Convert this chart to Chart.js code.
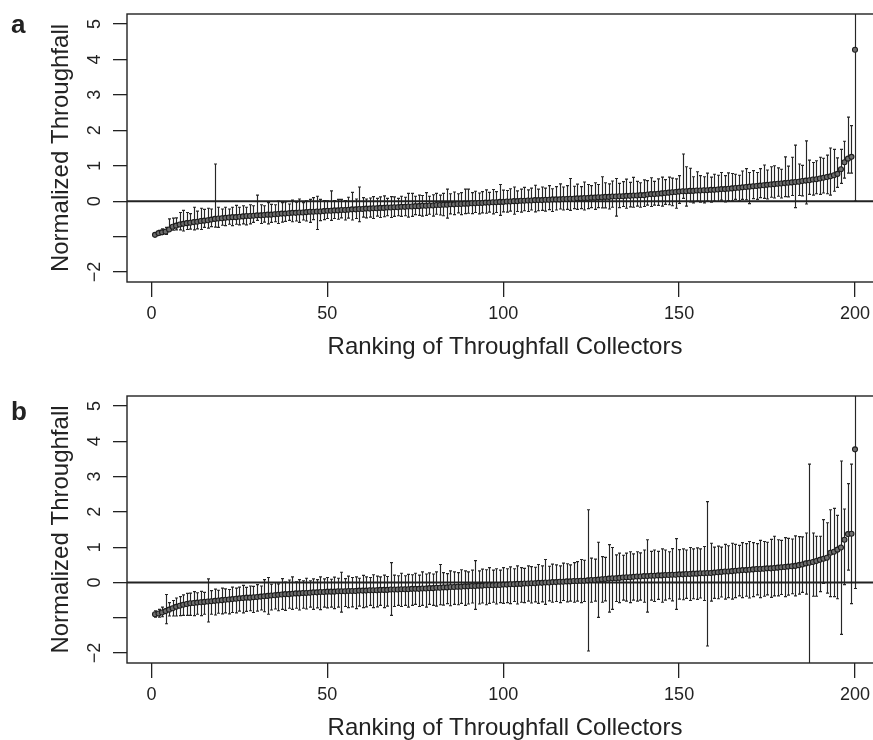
<!DOCTYPE html>
<html>
<head>
<meta charset="utf-8">
<script src="https://cdn.jsdelivr.net/npm/chart.js@4.4.1/dist/chart.umd.min.js"></script>
<style>
  body { margin: 0; background: #fff; }
  #wrap { width: 873px; height: 740px; overflow: hidden; position: relative; }
  canvas { position: absolute; left: 0; }
</style>
</head>
<body>
<div id="wrap">
  <canvas id="chartA" width="900" height="370" style="top:0px"></canvas>
  <canvas id="chartB" width="900" height="370" style="top:370px"></canvas>
</div>
<script>
const xTicks = [0, 50, 100, 150, 200];
const yTicks = [-2, -1, 0, 1, 2, 3, 4, 5];
const yTickLabels = ["\u22122", "", "0", "1", "2", "3", "4", "5"];

// panel a: mean, upper and lower error of each collector (rank 1..200)
const meanA = [
  -0.95,-0.90,-0.88,-0.86,-0.80,-0.72,-0.69,-0.66,-0.64,-0.62,
  -0.61,-0.59,-0.58,-0.56,-0.55,-0.54,-0.52,-0.50,-0.49,-0.48,
  -0.47,-0.46,-0.45,-0.45,-0.44,-0.43,-0.42,-0.42,-0.41,-0.40,
  -0.40,-0.39,-0.38,-0.38,-0.37,-0.36,-0.35,-0.35,-0.34,-0.33,
  -0.33,-0.32,-0.32,-0.31,-0.30,-0.30,-0.29,-0.29,-0.28,-0.27,
  -0.27,-0.26,-0.26,-0.25,-0.25,-0.24,-0.23,-0.23,-0.22,-0.22,
  -0.21,-0.21,-0.20,-0.20,-0.19,-0.19,-0.18,-0.18,-0.17,-0.17,
  -0.16,-0.16,-0.15,-0.15,-0.14,-0.14,-0.13,-0.13,-0.12,-0.12,
  -0.11,-0.11,-0.10,-0.10,-0.09,-0.09,-0.08,-0.08,-0.07,-0.07,
  -0.06,-0.06,-0.05,-0.05,-0.04,-0.04,-0.03,-0.03,-0.02,-0.02,
  -0.01,-0.01,0.00,0.00,0.01,0.01,0.02,0.02,0.03,0.03,
  0.03,0.04,0.04,0.05,0.05,0.05,0.06,0.06,0.07,0.07,
  0.08,0.08,0.09,0.09,0.10,0.10,0.11,0.11,0.12,0.12,
  0.13,0.13,0.14,0.14,0.15,0.15,0.16,0.16,0.17,0.17,
  0.19,0.20,0.20,0.21,0.22,0.23,0.24,0.25,0.26,0.27,
  0.28,0.28,0.29,0.29,0.30,0.30,0.31,0.31,0.32,0.32,
  0.33,0.34,0.34,0.35,0.36,0.37,0.38,0.39,0.40,0.41,
  0.42,0.43,0.44,0.45,0.46,0.47,0.48,0.49,0.50,0.51,
  0.52,0.53,0.54,0.55,0.57,0.58,0.59,0.61,0.62,0.64,
  0.66,0.68,0.70,0.73,0.77,0.90,1.10,1.20,1.25,4.27
];
const upA = [
  0.06,0.08,0.10,0.12,0.30,0.24,0.22,0.34,0.38,0.30,
  0.26,0.42,0.30,0.36,0.32,0.34,0.30,1.55,0.32,0.26,
  0.30,0.24,0.28,0.33,0.27,0.30,0.25,0.32,0.28,0.57,
  0.30,0.26,0.34,0.29,0.27,0.36,0.31,0.33,0.26,0.36,
  0.30,0.38,0.28,0.32,0.35,0.40,0.43,0.34,0.30,0.28,
  0.56,0.28,0.31,0.30,0.27,0.35,0.48,0.29,0.62,0.32,
  0.27,0.30,0.33,0.28,0.31,0.34,0.26,0.31,0.29,0.25,
  0.30,0.27,0.37,0.37,0.28,0.31,0.29,0.37,0.26,0.30,
  0.33,0.28,0.32,0.44,0.30,0.35,0.29,0.32,0.41,0.41,
  0.30,0.34,0.28,0.32,0.36,0.29,0.36,0.30,0.49,0.33,
  0.31,0.36,0.40,0.29,0.33,0.38,0.30,0.35,0.42,0.31,
  0.37,0.33,0.40,0.30,0.36,0.44,0.34,0.38,0.57,0.35,
  0.40,0.33,0.45,0.38,0.34,0.42,0.36,0.58,0.40,0.37,
  0.44,0.51,0.36,0.41,0.47,0.38,0.51,0.40,0.35,0.43,
  0.39,0.46,0.36,0.42,0.46,0.38,0.44,0.40,0.37,0.45,
  1.05,0.69,0.64,0.40,0.53,0.42,0.38,0.48,0.36,0.44,
  0.40,0.47,0.38,0.45,0.42,0.39,0.35,0.46,0.52,0.40,
  0.44,0.38,0.48,0.57,0.42,0.50,0.52,0.45,0.40,0.74,
  0.47,0.71,1.04,0.50,0.44,1.12,0.57,0.48,0.52,0.60,
  0.55,0.62,0.80,0.73,0.45,0.56,0.59,1.17,0.88,2.00
];
const downA = [
  0.04,0.05,0.06,0.08,0.04,0.10,0.12,0.15,0.20,0.18,
  0.18,0.22,0.20,0.24,0.19,0.22,0.20,0.23,0.25,0.20,
  0.22,0.19,0.24,0.20,0.23,0.21,0.25,0.22,0.19,0.14,
  0.23,0.20,0.26,0.22,0.21,0.27,0.24,0.22,0.20,0.25,
  0.23,0.28,0.21,0.25,0.30,0.22,0.51,0.26,0.24,0.22,
  0.27,0.23,0.25,0.22,0.28,0.24,0.30,0.26,0.36,0.23,
  0.26,0.24,0.29,0.22,0.27,0.25,0.23,0.28,0.26,0.24,
  0.27,0.25,0.30,0.28,0.24,0.26,0.29,0.27,0.25,0.30,
  0.26,0.28,0.31,0.38,0.27,0.29,0.25,0.30,0.28,0.27,
  0.29,0.26,0.31,0.28,0.30,0.27,0.33,0.29,0.38,0.28,
  0.30,0.27,0.37,0.29,0.32,0.28,0.31,0.27,0.33,0.30,
  0.29,0.32,0.28,0.34,0.30,0.27,0.31,0.29,0.33,0.28,
  0.31,0.29,0.34,0.30,0.28,0.33,0.29,0.30,0.31,0.34,
  0.30,0.55,0.32,0.29,0.35,0.31,0.33,0.30,0.34,0.32,
  0.30,0.35,0.31,0.33,0.36,0.32,0.34,0.38,0.46,0.33,
  0.20,0.42,0.31,0.34,0.30,0.33,0.36,0.31,0.35,0.32,
  0.34,0.31,0.36,0.33,0.35,0.32,0.37,0.34,0.36,0.48,
  0.35,0.38,0.34,0.37,0.40,0.36,0.39,0.35,0.41,0.38,
  0.40,0.37,0.72,0.39,0.42,0.66,0.40,0.44,0.41,0.45,
  0.43,0.47,0.53,0.45,0.38,0.40,0.45,0.41,0.46,4.27
];

// panel b
const meanB = [
  -0.90,-0.88,-0.85,-0.81,-0.77,-0.73,-0.69,-0.66,-0.63,-0.61,
  -0.59,-0.58,-0.57,-0.56,-0.55,-0.54,-0.53,-0.52,-0.51,-0.50,
  -0.49,-0.48,-0.47,-0.46,-0.45,-0.44,-0.43,-0.43,-0.42,-0.41,
  -0.40,-0.39,-0.38,-0.37,-0.36,-0.35,-0.34,-0.33,-0.33,-0.32,
  -0.31,-0.31,-0.30,-0.30,-0.29,-0.28,-0.28,-0.27,-0.27,-0.26,
  -0.26,-0.26,-0.25,-0.25,-0.25,-0.24,-0.24,-0.24,-0.23,-0.23,
  -0.23,-0.22,-0.22,-0.22,-0.21,-0.21,-0.21,-0.20,-0.20,-0.20,
  -0.19,-0.19,-0.19,-0.18,-0.18,-0.18,-0.17,-0.17,-0.16,-0.16,
  -0.15,-0.15,-0.14,-0.14,-0.13,-0.13,-0.12,-0.12,-0.11,-0.11,
  -0.10,-0.10,-0.09,-0.09,-0.08,-0.08,-0.08,-0.07,-0.07,-0.06,
  -0.06,-0.05,-0.05,-0.04,-0.04,-0.03,-0.03,-0.02,-0.02,-0.01,
  -0.01,0.00,0.00,0.01,0.01,0.02,0.02,0.03,0.03,0.04,
  0.04,0.05,0.05,0.06,0.07,0.07,0.08,0.09,0.10,0.11,
  0.12,0.12,0.13,0.14,0.15,0.15,0.16,0.17,0.17,0.18,
  0.18,0.19,0.19,0.20,0.20,0.21,0.21,0.22,0.22,0.23,
  0.23,0.24,0.24,0.25,0.25,0.26,0.26,0.27,0.27,0.28,
  0.29,0.30,0.31,0.31,0.32,0.33,0.34,0.35,0.35,0.36,
  0.37,0.38,0.38,0.39,0.40,0.40,0.41,0.42,0.43,0.44,
  0.45,0.46,0.47,0.49,0.51,0.54,0.56,0.58,0.61,0.64,
  0.67,0.70,0.84,0.87,0.93,0.99,1.21,1.37,1.38,3.77
];
const upB = [
  0.10,0.12,0.15,0.47,0.20,0.22,0.25,0.26,0.28,0.30,
  0.29,0.32,0.28,0.31,0.27,0.64,0.30,0.33,0.29,0.34,
  0.31,0.28,0.34,0.30,0.32,0.36,0.29,0.33,0.31,0.35,
  0.30,0.47,0.52,0.32,0.36,0.31,0.45,0.34,0.40,0.48,
  0.33,0.39,0.35,0.42,0.34,0.38,0.36,0.43,0.37,0.40,
  0.35,0.41,0.37,0.54,0.36,0.42,0.38,0.40,0.35,0.43,
  0.39,0.36,0.44,0.40,0.37,0.42,0.38,0.76,0.41,0.39,
  0.45,0.38,0.42,0.40,0.44,0.39,0.47,0.41,0.43,0.40,
  0.45,0.66,0.42,0.39,0.46,0.43,0.40,0.48,0.44,0.41,
  0.45,0.72,0.42,0.47,0.44,0.50,0.43,0.46,0.42,0.48,
  0.45,0.49,0.44,0.51,0.46,0.43,0.50,0.47,0.45,0.52,
  0.48,0.65,0.46,0.51,0.49,0.45,0.53,0.50,0.47,0.52,
  0.55,0.60,0.58,2.00,0.62,0.59,1.06,0.64,0.61,0.96,
  0.87,0.66,0.70,0.63,0.68,0.72,0.65,0.70,0.67,0.74,
  1.03,0.69,0.73,0.68,0.75,0.71,0.66,0.74,1.02,0.70,
  0.72,0.68,0.75,0.70,0.73,0.69,0.76,2.02,0.84,0.72,
  0.74,0.70,0.77,0.73,0.79,0.75,0.71,0.78,0.75,0.80,
  0.76,0.72,0.81,0.77,0.74,0.82,0.90,0.79,0.76,0.83,
  0.80,0.77,0.85,0.81,0.78,0.86,2.79,0.82,0.70,0.67,
  1.11,0.99,1.22,1.23,0.97,2.45,0.87,1.43,1.97,2.30
];
const downB = [
  0.08,0.10,0.12,0.36,0.18,0.22,0.26,0.28,0.30,0.32,
  0.34,0.36,0.33,0.38,0.35,0.58,0.37,0.40,0.36,0.39,
  0.37,0.41,0.38,0.40,0.36,0.42,0.39,0.37,0.43,0.40,
  0.38,0.44,0.52,0.41,0.39,0.45,0.42,0.46,0.40,0.44,
  0.42,0.47,0.43,0.45,0.41,0.48,0.44,0.50,0.43,0.46,
  0.44,0.48,0.45,0.59,0.43,0.47,0.45,0.50,0.44,0.48,
  0.46,0.43,0.49,0.47,0.44,0.50,0.46,0.73,0.48,0.45,
  0.49,0.46,0.51,0.47,0.44,0.50,0.48,0.53,0.46,0.49,
  0.52,0.48,0.50,0.46,0.53,0.49,0.51,0.47,0.54,0.50,
  0.48,0.66,0.52,0.49,0.55,0.51,0.48,0.54,0.50,0.53,
  0.51,0.55,0.49,0.57,0.52,0.54,0.50,0.56,0.53,0.58,
  0.54,0.62,0.52,0.57,0.55,0.59,0.53,0.58,0.56,0.60,
  0.57,0.62,0.59,2.00,0.63,0.60,1.07,0.65,0.62,0.95,
  0.88,0.66,0.70,0.64,0.68,0.72,0.66,0.70,0.67,0.74,
  1.02,0.69,0.73,0.68,0.76,0.71,0.67,0.74,0.98,0.70,
  0.72,0.69,0.75,0.71,0.73,0.70,0.77,2.07,0.80,0.73,
  0.75,0.71,0.78,0.74,0.79,0.76,0.72,0.78,0.74,0.80,
  0.77,0.73,0.81,0.78,0.75,0.82,0.79,0.80,0.77,0.84,
  0.81,0.78,0.85,0.82,0.79,0.87,3.00,0.97,1.00,0.90,
  0.70,1.00,1.24,1.27,1.39,2.46,1.27,1.02,1.98,3.94
];

const FONT = "'Liberation Sans', Arial, Helvetica, sans-serif";
const INK = "#222";
Chart.defaults.font.family = FONT;
Chart.defaults.color = INK;

function makePanel(canvasId, letter, letterY, mean, up, down, lay) {
  const points = mean.map((m, i) => ({ x: i + 1, y: m }));

  // error bars, frame, rotated y labels and the panel letter
  const panelDecor = {
    id: "panelDecor",
    beforeDatasetsDraw(chart) {
      const { ctx, chartArea: a, scales: { x, y } } = chart;
      ctx.save();
      ctx.beginPath();
      ctx.rect(a.left, a.top, a.right - a.left, a.bottom - a.top);
      ctx.clip();
      ctx.strokeStyle = "#262626";
      ctx.lineWidth = 1.15;
      for (let i = 0; i < mean.length; i++) {
        const px = Math.round(x.getPixelForValue(i + 1)) + 0.5;
        const top = y.getPixelForValue(mean[i] + up[i]);
        const bot = y.getPixelForValue(mean[i] - down[i]);
        ctx.beginPath();
        ctx.moveTo(px, top);
        ctx.lineTo(px, bot);
        ctx.moveTo(px - 1.5, top);
        ctx.lineTo(px + 1.5, top);
        ctx.moveTo(px - 1.5, bot);
        ctx.lineTo(px + 1.5, bot);
        ctx.stroke();
      }
      ctx.restore();
    },
    afterDraw(chart) {
      const { ctx, chartArea: a, scales: { y } } = chart;
      ctx.save();
      ctx.strokeStyle = INK;
      ctx.lineWidth = 1.4;
      ctx.strokeRect(a.left, a.top, a.right - a.left, a.bottom - a.top);

      ctx.fillStyle = INK;
      ctx.font = "18px " + FONT;
      ctx.textAlign = "center";
      ctx.textBaseline = "middle";
      for (let i = 0; i < yTicks.length; i++) {
        if (!yTickLabels[i]) continue;
        ctx.save();
        ctx.translate(lay.yLabelX, y.getPixelForValue(yTicks[i]));
        ctx.rotate(-Math.PI / 2);
        ctx.fillText(yTickLabels[i], 0, 0);
        ctx.restore();
      }

      ctx.font = "bold 26px " + FONT;
      ctx.textAlign = "left";
      ctx.textBaseline = "alphabetic";
      ctx.fillText(letter, 11, letterY);
      ctx.restore();
    }
  };

  return new Chart(document.getElementById(canvasId), {
    type: "scatter",
    data: {
      datasets: [
        {
          type: "line",
          data: [{ x: -20, y: 0 }, { x: 220, y: 0 }],
          borderColor: INK,
          borderWidth: 2,
          pointRadius: 0,
          order: 2
        },
        {
          data: points,
          pointRadius: 2.5,
          pointBorderWidth: 1.1,
          pointBackgroundColor: "#6e6e6e",
          pointBorderColor: "#1e1e1e",
          order: 1
        }
      ]
    },
    options: {
      responsive: false,
      animation: false,
      events: [],
      layout: { padding: { top: lay.top, right: 17, left: 0, bottom: 0 } },
      plugins: { legend: { display: false }, tooltip: { enabled: false } },
      scales: {
        x: {
          type: "linear",
          min: -6.96,
          max: 207.96,
          afterBuildTicks: (s) => { s.ticks = xTicks.map((v) => ({ value: v })); },
          afterFit: (s) => { s.height = lay.xHeight; },
          border: { display: false },
          grid: { drawOnChartArea: false, drawTicks: true, tickLength: 15, color: INK, lineWidth: 1.3 },
          ticks: { autoSkip: false, maxRotation: 0, padding: 6, font: { size: 18 }, color: INK },
          title: {
            display: true,
            text: "Ranking of Throughfall Collectors",
            font: { size: 24, lineHeight: 1 },
            color: INK,
            padding: { top: 0, bottom: lay.xTitlePad }
          }
        },
        y: {
          type: "linear",
          min: -2.28,
          max: 5.28,
          afterBuildTicks: (s) => { s.ticks = yTicks.map((v) => ({ value: v })); },
          afterFit: (s) => { s.width = 127; },
          border: { display: false },
          grid: { drawOnChartArea: false, drawTicks: true, tickLength: 14, color: INK, lineWidth: 1.3 },
          ticks: { display: false },
          title: {
            display: true,
            text: "Normalized Throughfall",
            font: { size: 24, lineHeight: 1 },
            color: INK,
            padding: { top: 49, bottom: 0 }
          }
        }
      }
    },
    plugins: [panelDecor]
  });
}

makePanel("chartA", "a", 33, meanA, upA, downA, { top: 14, xHeight: 88, xTitlePad: 11, yLabelX: 95 });
makePanel("chartB", "b", 50, meanB, upB, downB, { top: 26, xHeight: 77, xTitlePad: 0, yLabelX: 95 });
</script>
</body>
</html>
